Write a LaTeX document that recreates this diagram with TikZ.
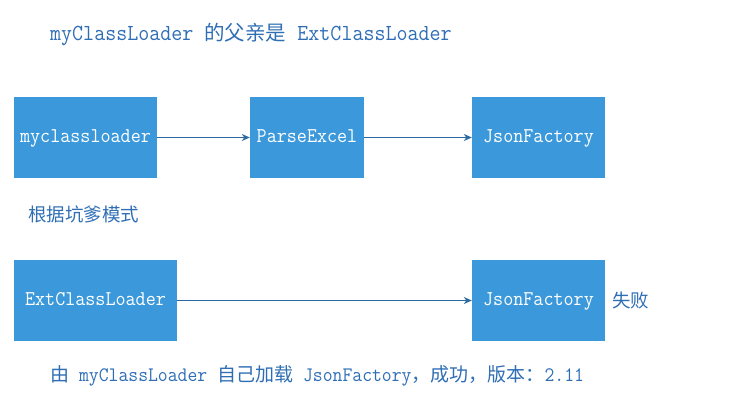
\documentclass[tikz,border=0pt]{standalone}
\usepackage{fontspec}
\newfontfamily\cjk{Noto Sans CJK SC}
\newfontfamily\monof[FakeStretch=0.93]{Latin Modern Mono}
\usetikzlibrary{arrows.meta}
\definecolor{boxblue}{HTML}{3A98DB}
\definecolor{txtblue}{HTML}{2F6EB5}
\definecolor{arrowblue}{HTML}{2B6AA0}
\tikzset{
  box/.style={fill=boxblue, draw=none, text=white, minimum height=81pt, inner sep=0pt,
    text height=14pt, text depth=4pt,
    font=\monof\fontsize{21}{22}\selectfont},
  link/.style={draw=arrowblue, line width=1.2pt, -{Stealth[length=8pt,width=7pt,inset=2.5pt]}},
  lbl/.style={text=txtblue, inner sep=0pt},
}
\begin{document}
\begin{tikzpicture}[x=1pt,y=-1pt]
\useasboundingbox (0,0) rectangle (731,407);
\node[lbl, anchor=base west, font=\monof\fontsize{23}{24}\selectfont] (title) at (50,40)
  {myClassLoader {\cjk\fontsize{20.5}{22}\selectfont 的父亲是} ExtClassLoader};
\node[box, minimum width=143pt] (mcl) at (85.5,137.5) {myclassloader};
\node[box, minimum width=114pt] (pe) at (307,137.5) {ParseExcel};
\node[box, minimum width=133pt] (jf1) at (538.5,137.5) {JsonFactory};
\draw[link] (mcl) -- (pe);
\draw[link] (pe) -- (jf1);
\node[lbl, anchor=west, font=\cjk\fontsize{18.5}{20}\selectfont] (mode) at (28,214.5) {根据坑爹模式};
\node[box, minimum width=163pt] (ecl) at (95.5,300.5) {ExtClassLoader};
\node[box, minimum width=133pt] (jf2) at (538.5,300.5) {JsonFactory};
\draw[link] (ecl) -- (jf2);
\node[lbl, anchor=west, font=\cjk\fontsize{18.5}{20}\selectfont] (fail) at (612,300) {失败};
\node[lbl, anchor=base west, font=\monof\fontsize{20.6}{22}\selectfont] (bottom) at (50,381)
  {{\cjk\fontsize{19}{20}\selectfont 由} myClassLoader {\cjk\fontsize{19}{20}\selectfont 自己加载} JsonFactory{\cjk\fontsize{19}{20}\selectfont ，成功，版本：}2.11};
\end{tikzpicture}
\end{document}
